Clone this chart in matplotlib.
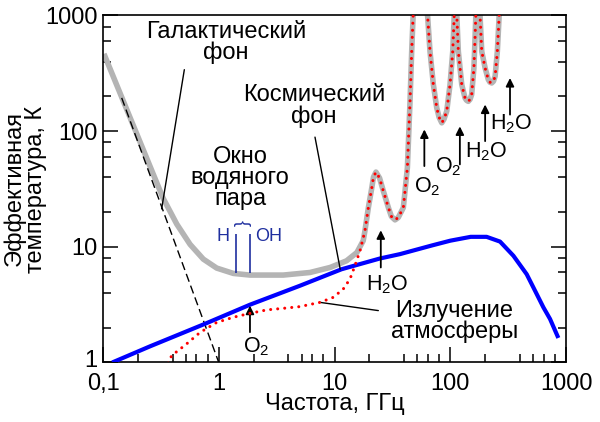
import numpy as np
from matplotlib import pyplot as plt
from matplotlib import transforms
from matplotlib.ticker import FixedLocator, NullFormatter

plt.rcParams["font.family"] = ["Liberation Sans", "DejaVu Sans"]
plt.rcParams["mathtext.fontset"] = "custom"
plt.rcParams["mathtext.rm"] = "Liberation Sans"
plt.rcParams["mathtext.default"] = "regular"

# galactic background (dashed straight line)
gal_freq = [0.145, 1.0]
gal_temp = [194, 1.0]

# total sky noise, low-frequency part (grey)
sky_freq = [0.104, 0.33, 0.434, 0.565, 0.735, 0.96, 1.336, 1.86, 3.61, 6.14, 9.15, 12.7, 15.6, 17.7]
sky_temp = [443, 26.4, 15.7, 10.5, 7.83, 6.55, 5.89, 5.70, 5.70, 6.0, 6.63, 7.57, 8.93, 11.3]

# atmosphere emission (red dotted), also the grey curve above ~18 GHz
atm_freq = [0.366, 0.392, 0.447, 0.528, 0.689, 0.96, 1.336, 1.86, 2.6, 3.61, 5.0, 7.49, 9.76,
            11.9, 13.6, 15.0, 16.6, 18.3, 19.6, 21.0, 21.7, 22.8, 24.5, 26.4, 29.2, 31.0, 33.3,
            35.5, 39.3, 42.6, 44.9, 46.4, 47.7, 55, 63.8, 66.8, 71.4, 76.4, 80, 84.4, 88.3, 93.2,
            99.5, 105, 108, 112, 114, 117.4, 125.6, 134, 138, 143, 148, 153, 160, 164, 166, 174,
            181, 187, 200, 213, 220, 228, 236, 244, 255, 264, 275]
atm_temp = [0.986, 1.15, 1.27, 1.45, 1.82, 2.22, 2.46, 2.66, 2.85, 2.94, 3.04, 3.31, 3.66,
            4.32, 5.27, 6.86, 9.24, 13.7, 21.8, 32.5, 40.1, 44.3, 39.3, 30.4, 21.8, 18.3, 17.1,
            17.9, 21.8, 48.3, 181, 489, 967, 5000, 967, 489, 253, 159, 132, 118, 127, 149,
            253, 489, 967, 5000, 967, 489, 253, 194, 185, 181, 188, 207, 351, 682, 967, 5000,
            967, 489, 351, 279, 265, 261, 270, 298, 489, 967, 3000]

# cosmic background (blue)
cmb_freq = [0.12, 0.255, 0.76, 1.86, 5.0, 11.5, 24.7, 36.8, 70, 100, 150, 206, 269, 351, 457,
            522, 637, 727, 858]
cmb_temp = [1.0, 1.38, 2.16, 3.16, 4.6, 6.4, 7.93, 8.65, 10.3, 11.3, 12.2, 12.2, 11.1, 8.37,
            5.8, 4.46, 3.0, 2.38, 1.63]

# H and OH lines
line_freq = [1.42, 1.85]
line_top, line_bottom = 12.9, 5.9

# absorption-line arrows: (freq, tail temp, head temp, label, label freq, label temp)
arrows = [
    (1.86, 1.83, 3.10, "O$_2$", 2.12, 1.37),
    (25.1, 6.63, 13.9, "H$_2$O", 28.4, 4.7),
    (59.7, 49.9, 103.5, "O$_2$", 63, 32.9),
    (121, 51.6, 110, "O$_2$", 96.2, 49.0),
    (200, 82, 170, "H$_2$O", 206, 65.9),
    (328, 139, 288, "H$_2$O", 335, 115),
]

x_ticks = [0.1, 1, 10, 100, 1000]
x_tick_labels = ["0,1", "1", "10", "100", "1000"]
y_ticks = [1, 10, 100, 1000]
y_tick_labels = ["1", "10", "100", "1000"]

fig = plt.figure(figsize=(6, 4.22), dpi=100)
ax = fig.add_axes([0.1717, 0.141, 0.7717, 0.8223])
ax.set_xscale("log")
ax.set_yscale("log")
ax.set_xlim(0.1, 1000)
ax.set_ylim(1, 1000)

atm_freq_a = np.array(atm_freq)
atm_temp_a = np.array(atm_temp)
gray_f = np.concatenate([sky_freq, atm_freq_a[atm_freq_a >= 18]])
gray_t = np.concatenate([sky_temp, atm_temp_a[atm_freq_a >= 18]])

ax.plot(gray_f, gray_t, color="#b4b4b4", lw=4, zorder=2, solid_joinstyle="round")
ax.plot(gal_freq, gal_temp, color="black", lw=1, dashes=(6, 3), zorder=2)
ax.plot(cmb_freq, cmb_temp, color="#0000ff", lw=3, zorder=3, solid_capstyle="butt")
red, = ax.plot(atm_freq, atm_temp, color="#ff0000", lw=2.2, zorder=4)
red.set_dashes([0.01, 2.3])
red.set_dash_capstyle("round")

ax.vlines(line_freq, line_bottom, line_top, color="#1f2f9f", lw=1.2, zorder=3)
ax.text(1.084, 12.2, "H", color="#1f2f9f", fontsize=13, ha="center", va="center")
ax.text(2.68, 12.2, "OH", color="#1f2f9f", fontsize=13, ha="center", va="center")
ax.text(1.63, 16.1, "}", color="#1f2f9f", fontsize=13, rotation=90, ha="center", va="center")

for f, t0, t1, label, lf, lt in arrows:
    ax.annotate("", xy=(f, t1), xytext=(f, t0),
                arrowprops=dict(arrowstyle="-|>", color="black", lw=1.3, mutation_scale=12,
                                shrinkA=0, shrinkB=0))
    ax.text(lf, lt, label, fontsize=15.5, ha="center", va="center")

leader = dict(arrowstyle="-", color="black", lw=1, shrinkA=0, shrinkB=0)
ax.annotate("", xy=(0.321, 21.3), xytext=(0.504, 340), arrowprops=leader)
ax.annotate("", xy=(11.2, 6.4), xytext=(6.78, 88.8), arrowprops=leader)
ax.annotate("", xy=(7.49, 3.31), xytext=(23.9, 2.81), arrowprops=leader)

note = dict(fontsize=17, ha="center", va="center", linespacing=0.95)
ax.text(1.155, 585, "Галактический\nфон", **note)
ax.text(6.65, 164, "Космический\nфон", **note)
ax.text(1.526, 39.3, "Окно\nводяного\nпара", **note)
ax.text(108.8, 2.26, "Излучение\nатмосферы", **note)

ax.xaxis.set_major_locator(FixedLocator(x_ticks))
ax.set_xticklabels(x_tick_labels)
ax.yaxis.set_major_locator(FixedLocator(y_ticks))
ax.set_yticklabels(y_tick_labels)
x_minor = [d * s for d in [0.1, 1, 10, 100] for s in [2, 4, 5.2, 6.4, 8]]
y_minor = [d * s for d in [1, 10, 100] for s in [2, 4, 6, 8]]
ax.xaxis.set_minor_locator(FixedLocator(x_minor))
ax.yaxis.set_minor_locator(FixedLocator(y_minor))
ax.xaxis.set_minor_formatter(NullFormatter())
ax.yaxis.set_minor_formatter(NullFormatter())

ax.tick_params(axis="both", which="both", direction="in", top=False, right=True, labelsize=17)
ax.tick_params(axis="both", which="major", length=11, width=1.1, pad=4)
ax.tick_params(axis="both", which="minor", length=6, width=1.1)
ax.tick_params(axis="x", which="major", pad=7.5)
for s in ax.spines.values():
    s.set_linewidth(1.2)

# nudge the lowest y label up a little so it clears "0,1"
lab = ax.yaxis.get_major_ticks()[0].label1
lab.set_transform(lab.get_transform() + transforms.ScaledTranslation(0, 3 / 72, fig.dpi_scale_trans))

ax.set_xlabel("Частота, ГГц", fontsize=17)
ax.set_ylabel("Эффективная\nтемпература, К", fontsize=17, linespacing=0.95)
ax.xaxis.set_label_coords(0.5, -0.088)
ax.yaxis.set_label_coords(-0.121, 0.5)

fig.savefig("out.png", dpi=100)
